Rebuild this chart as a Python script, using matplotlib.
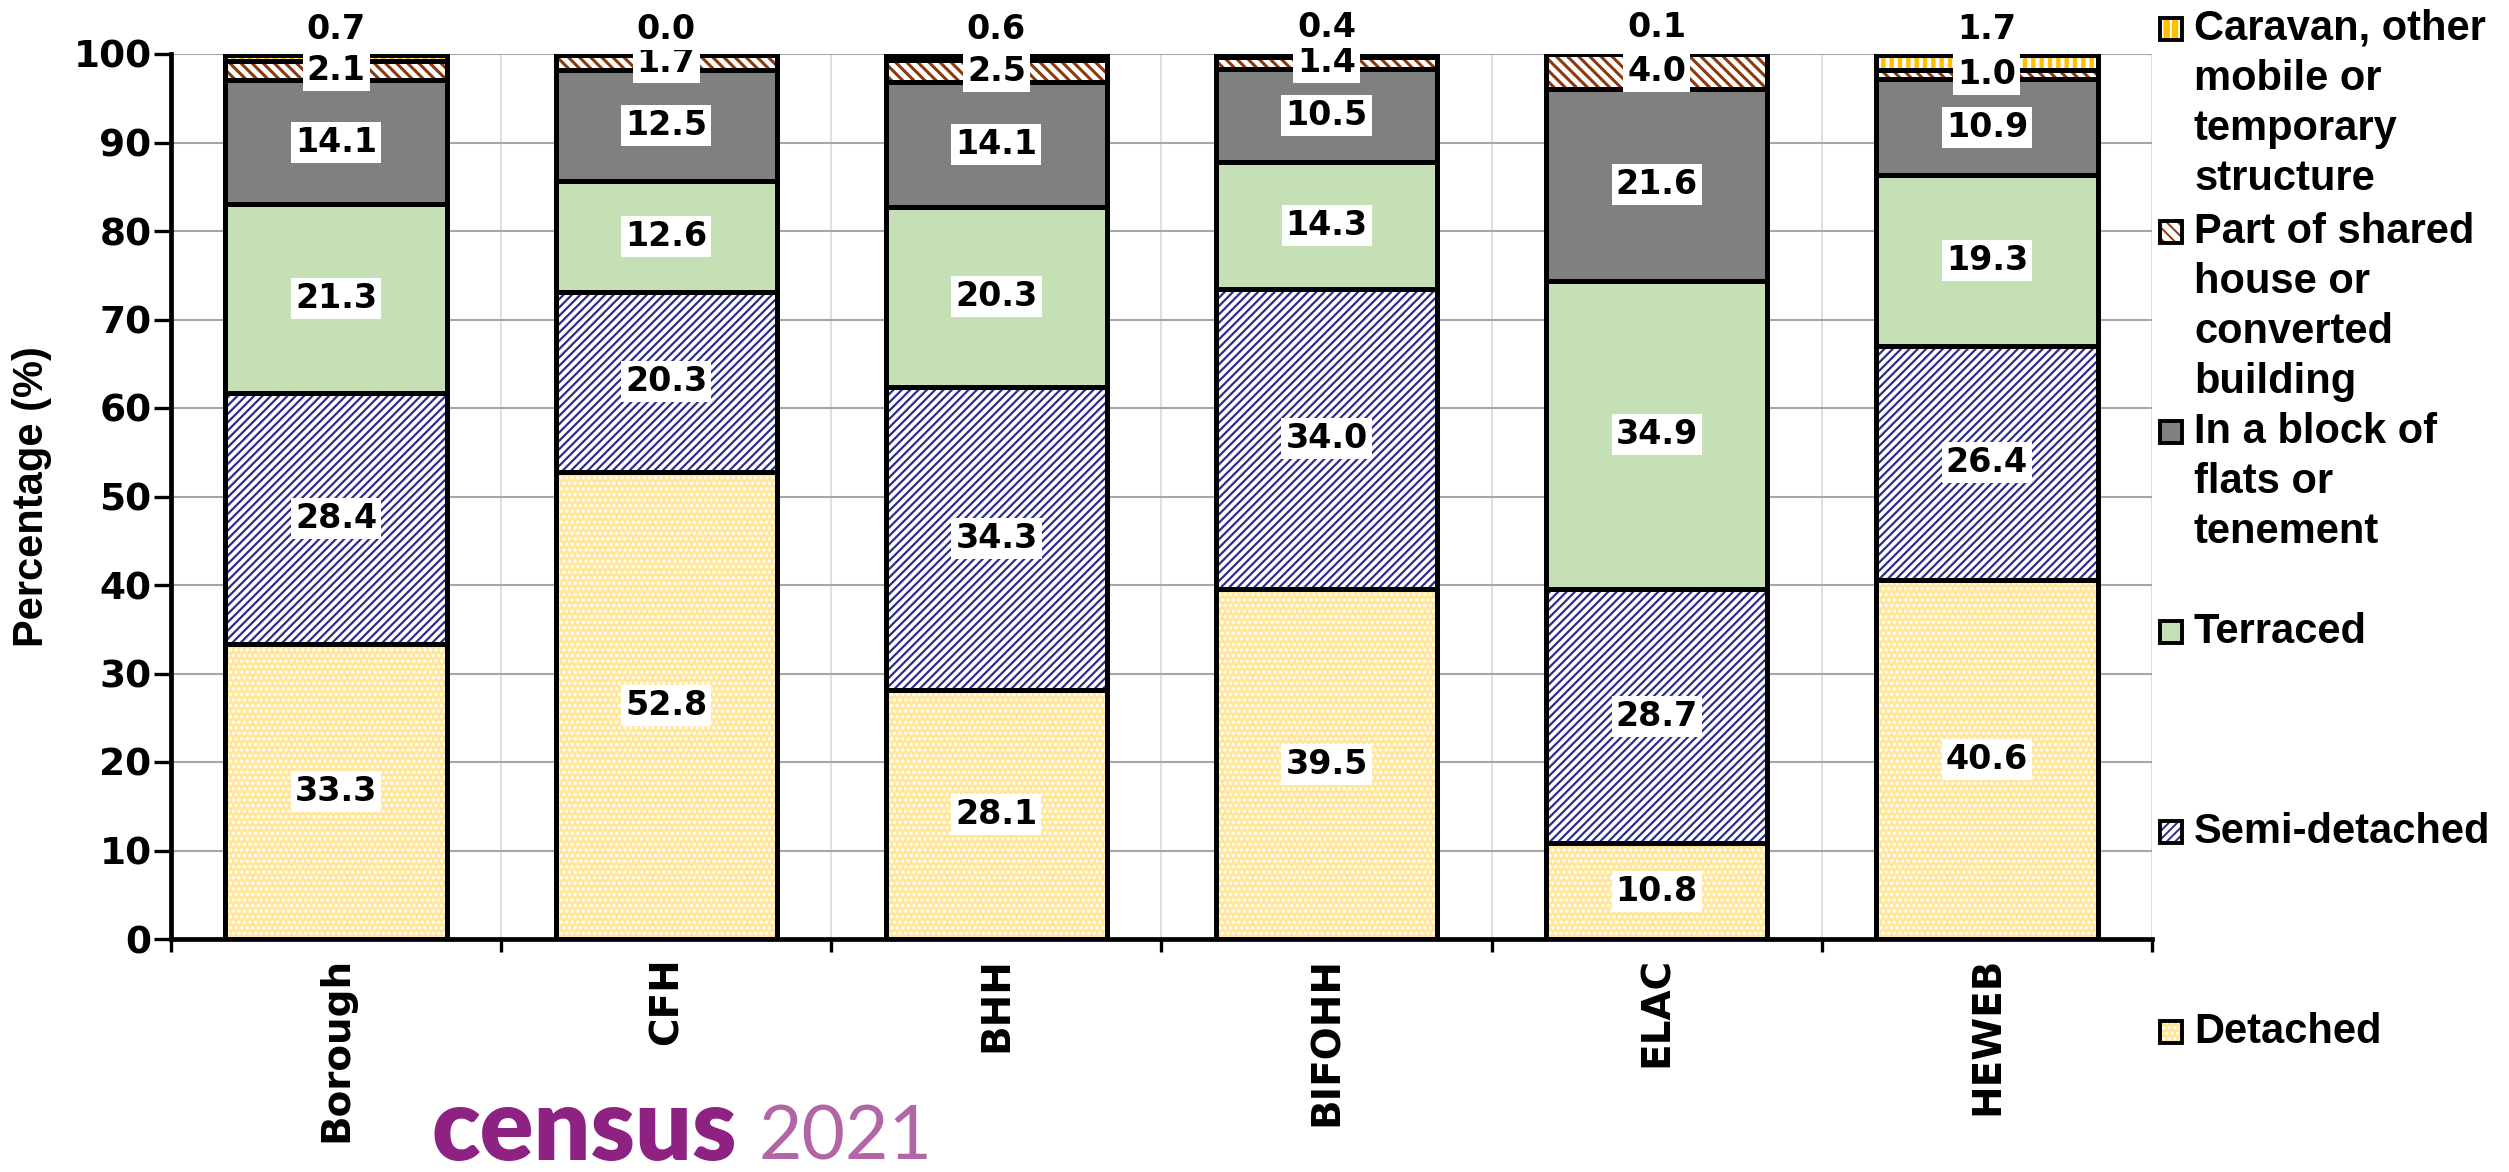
import matplotlib
matplotlib.use("Agg")
import matplotlib.pyplot as plt
from matplotlib.patches import Rectangle
import numpy as np

# =============================================================================
#  Data
# =============================================================================

areas = ["Borough", "CFH", "BHH", "BIFOHH", "ELAC", "HEWEB"]

detached = [33.3, 52.8, 28.1, 39.5, 10.8, 40.6]
semi_detached = [28.4, 20.3, 34.3, 34.0, 28.7, 26.4]
terraced = [21.3, 12.6, 20.3, 14.3, 34.9, 19.3]
flats = [14.1, 12.5, 14.1, 10.5, 21.6, 10.9]
shared = [2.1, 1.7, 2.5, 1.4, 4.0, 1.0]
caravan = [0.7, 0.0, 0.6, 0.4, 0.1, 1.7]

series_names = [
    "Detached",
    "Semi-detached",
    "Terraced",
    "In a block of\nflats or\ntenement",
    "Part of shared\nhouse or\nconverted\nbuilding",
    "Caravan, other\nmobile or\ntemporary\nstructure",
]
series_values = [detached, semi_detached, terraced, flats, shared, caravan]

# face colour, hatch, hatch colour, hatch linewidth
styles = [
    ("#FFE699", "...", "white", 1.6),
    ("white", "////", "#2E2E8F", 1.6),
    ("#C5E0B4", None, "#C5E0B4", 1.0),
    ("#808080", None, "#808080", 1.0),
    ("white", "\\\\\\", "#8B3A0F", 2.2),
    ("#FFC000", "||", "white", 2.8),
]

W, H = 2509, 1172
fig = plt.figure(figsize=(W / 100, H / 100), dpi=100)
ax = fig.add_axes([171 / W, 1 - 939 / H, (2152 - 171) / W, (939 - 54) / H])

x = np.arange(len(areas))
bar_w = 0.67
num_font = "DejaVu Sans"
text_font = ["Liberation Sans", "DejaVu Sans"]

# =============================================================================
#  Bars
# =============================================================================

bottom = np.zeros(len(areas))
for i, vals in enumerate(series_values):
    vals = np.array(vals)
    face, hatch, hcol, hlw = styles[i]
    plt.rcParams["hatch.linewidth"] = hlw
    ax.bar(x, vals, bar_w, bottom=bottom, color=face, hatch=hatch,
           edgecolor=hcol, linewidth=0, zorder=2)
    ax.bar(x, vals, bar_w, bottom=bottom, fill=False, edgecolor="black",
           linewidth=3.6, zorder=3)
    for xi, v, b in zip(x, vals, bottom):
        if i == len(series_values) - 1:
            ypos = b + v + 2.9
        else:
            ypos = b + v / 2
        ax.text(xi, ypos, f"{v:.1f}", ha="center", va="center",
                fontsize=24, fontweight="bold", family=num_font, zorder=5,
                bbox=dict(boxstyle="square,pad=0.12", fc="white", ec="none"))
    bottom = bottom + vals

# =============================================================================
#  Axes styling
# =============================================================================

ax.set_xlim(-0.5, 5.5)
ax.set_ylim(0, 100)
ax.set_yticks(np.arange(0, 101, 10))
ax.set_yticklabels([str(v) for v in range(0, 101, 10)], fontsize=27,
                   fontweight="bold", family=num_font)
ax.tick_params(axis="y", direction="out", length=12, width=2.4, pad=2)

ax.set_xticks(x)
ax.set_xticklabels(areas, rotation=90, fontsize=28, fontweight="bold",
                   family=num_font)
ax.tick_params(axis="x", which="major", length=0, pad=13)
ax.set_xticks(np.arange(-0.5, 6, 1), minor=True)
ax.tick_params(axis="x", which="minor", direction="out", length=9, width=2.4)

ax.grid(axis="y", color="#A6A6A6", linewidth=1.5, zorder=0)
ax.grid(axis="x", which="minor", color="#D9D9D9", linewidth=1.2, zorder=0)
ax.set_axisbelow(True)

for s in ["top", "right"]:
    ax.spines[s].set_visible(False)
for s in ["left", "bottom"]:
    ax.spines[s].set_linewidth(3.4)
    ax.spines[s].set_zorder(4)

ax.set_ylabel("Percentage (%)", fontsize=30, fontweight="bold", family=text_font)
ax.yaxis.set_label_coords(-0.060, 0.5)

# =============================================================================
#  Legend (drawn by hand, top entry first)
# =============================================================================

first_line_px = [1032, 832, 632, 432, 232, 29]
line_step = 50
box = 22
for i, name in enumerate(series_names):
    face, hatch, hcol, hlw = styles[i]
    yc = first_line_px[i]
    plt.rcParams["hatch.linewidth"] = min(hlw, 1.4)
    r = Rectangle((2160 / W, 1 - (yc + box / 2) / H), box / W, box / H,
                  transform=fig.transFigure, facecolor=face, hatch=hatch,
                  edgecolor=hcol, linewidth=0)
    fig.add_artist(r)
    fig.add_artist(Rectangle((2160 / W, 1 - (yc + box / 2) / H), box / W, box / H,
                             transform=fig.transFigure, fill=False,
                             edgecolor="black", linewidth=2.8))
    for k, line in enumerate(name.split("\n")):
        fig.text(2194 / W, 1 - (yc + k * line_step) / H, line, ha="left",
                 va="center", fontsize=30, fontweight="bold", family=text_font)

# =============================================================================
#  Census 2021 logo
# =============================================================================

fig.text(432 / W, 12 / H, "census", color="#8E2282", fontsize=72,
         fontweight="heavy", family=["Lato", "DejaVu Sans"], va="baseline")
fig.text(758 / W, 12 / H, "2021", color="#B266A6", fontsize=54,
         fontweight="normal", family=["Lato", "DejaVu Sans"], va="baseline")

fig.savefig("out.png", dpi=100)
